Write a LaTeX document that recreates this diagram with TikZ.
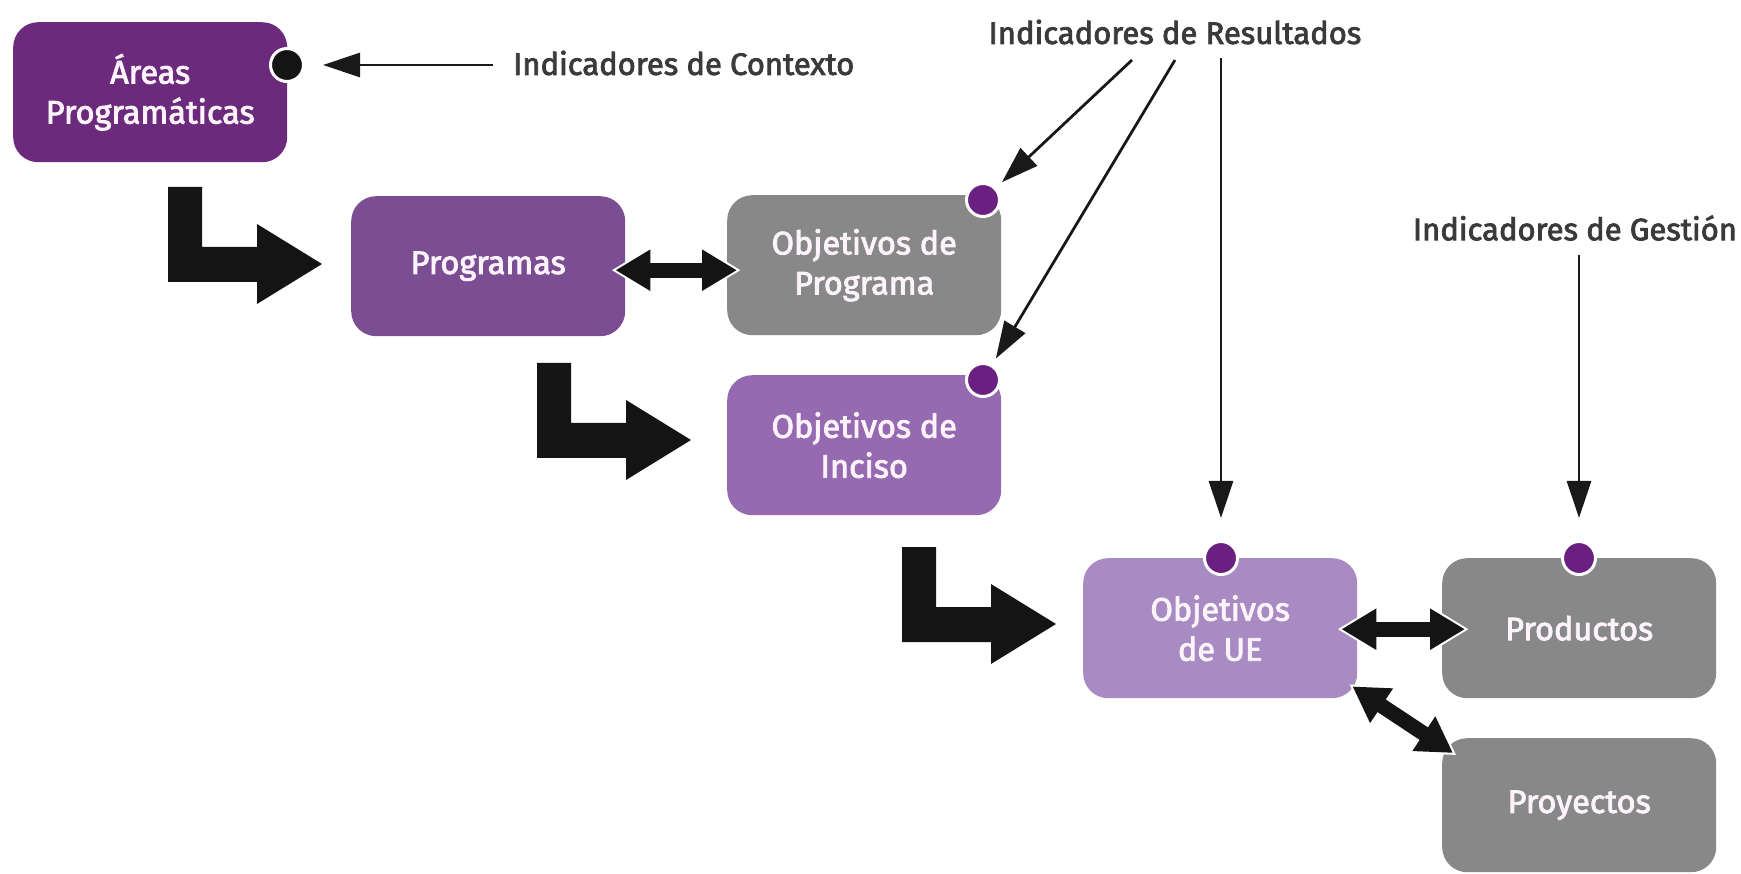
\documentclass[tikz,border=0pt]{standalone}
\usepackage{fontspec}
\newfontfamily\dfont{Fira Sans}[FakeBold=2.6]
\usetikzlibrary{arrows.meta,calc}
\definecolor{cA}{RGB}{108,42,124}
\definecolor{cP}{RGB}{123,78,148}
\definecolor{cI}{RGB}{150,106,176}
\definecolor{cU}{RGB}{168,139,194}
\definecolor{cG}{RGB}{136,136,136}
\definecolor{dotp}{RGB}{106,32,128}
\definecolor{boxtext}{RGB}{253,243,250}
\definecolor{labtext}{RGB}{58,58,58}
\tikzset{
  box/.style={rounded corners=25pt, minimum width=274pt, minimum height=140pt,
    inner sep=0pt, text=boxtext, align=center, anchor=north west,
    font=\dfont\fontsize{32.5}{40}\selectfont},
  dotnode/.style={circle, minimum size=33pt, inner sep=0pt, fill=dotp, draw=white, line width=3pt},
  lab/.style={inner sep=0pt, text=labtext, font=\dfont\fontsize{31}{38}\selectfont},
  thinarrow/.style={draw=black!90, line width=2.8pt, -{Triangle[length=37pt,width=24pt]}},
  fatw/.style={draw=white, line width=21pt, shorten <=-4pt, shorten >=-4pt,
    {Triangle[length=41pt,width=46pt]}-{Triangle[length=41pt,width=46pt]}},
  fatb/.style={draw=black!92, line width=15pt,
    {Triangle[length=35pt,width=39pt]}-{Triangle[length=35pt,width=39pt]}},
  larrow/.pic={\fill[black!92] (0,0) -- (34,0) -- (34,60) -- (89,60) -- (89,37)
     -- (154,77) -- (89,117) -- (89,95) -- (0,95) -- cycle;}
}
\begin{document}
\begin{tikzpicture}[x=1pt,y=-1pt]
\useasboundingbox (0,0) rectangle (1741,874);
% boxes
\node[box, fill=cA] (areas) at (13,22) {Áreas\\Programáticas};
\node[box, fill=cP] (prog) at (351,196) {Programas};
\node[box, fill=cG] (objprog) at (727,195) {Objetivos de\\Programa};
\node[box, fill=cI] (objinc) at (727,375) {Objetivos de\\Inciso};
\node[box, fill=cU] (objue) at (1083,558) {Objetivos\\de UE};
\node[box, fill=cG] (prod) at (1442,558) {Productos};
\node[box, fill=cG, minimum height=134pt] (proy) at (1442,738) {Proyectos};
% dots
\node[dotnode, fill=black!92] (dA) at (287,65) {};
\node[dotnode] (dOP) at (983,200) {};
\node[dotnode] (dOI) at (983,380) {};
\node[dotnode] (dUE) at (1221,558) {};
\node[dotnode] (dPR) at (1579,558) {};
% labels
\node[lab, anchor=west] (ctx) at (513,63) {Indicadores de Contexto};
\node[lab] (res) at (1175,32) {Indicadores de Resultados};
\node[lab] (ges) at (1575,228) {Indicadores de Gestión};
% thin arrows
\coordinate (c0) at (493,65);
\coordinate (r1) at (1132,60);
\coordinate (r2) at (1175,60);
\coordinate (r3) at (1221,58);
\coordinate (g1) at (1579,255);
\draw[thinarrow, shorten >=18pt] (c0) -- (dA);
\draw[thinarrow, shorten >=8pt] (r1) -- (dOP);
\draw[thinarrow, shorten >=7pt] (r2) -- (dOI);
\draw[thinarrow, shorten >=22pt] (r3) -- (dUE);
\draw[thinarrow, shorten >=22pt] (g1) -- (dPR);
% L arrows
\pic at (168,187) {larrow};
\pic at (537,363) {larrow};
\pic at (902,547) {larrow};
% fat double arrows
\draw[fatw] ($(prog.east)+(-10,4)$) -- ($(objprog.west)+(10,5)$);
\draw[fatb] ($(prog.east)+(-10,4)$) -- ($(objprog.west)+(10,5)$);
\draw[fatw] ($(objue.east)+(-16,1)$) -- ($(prod.west)+(23,1)$);
\draw[fatb] ($(objue.east)+(-16,1)$) -- ($(prod.west)+(23,1)$);
\draw[fatw] ($(objue.south east)+(-5,-12)$) -- ($(proy.north west)+(11,15)$);
\draw[fatb] ($(objue.south east)+(-5,-12)$) -- ($(proy.north west)+(11,15)$);
\end{tikzpicture}
\end{document}
